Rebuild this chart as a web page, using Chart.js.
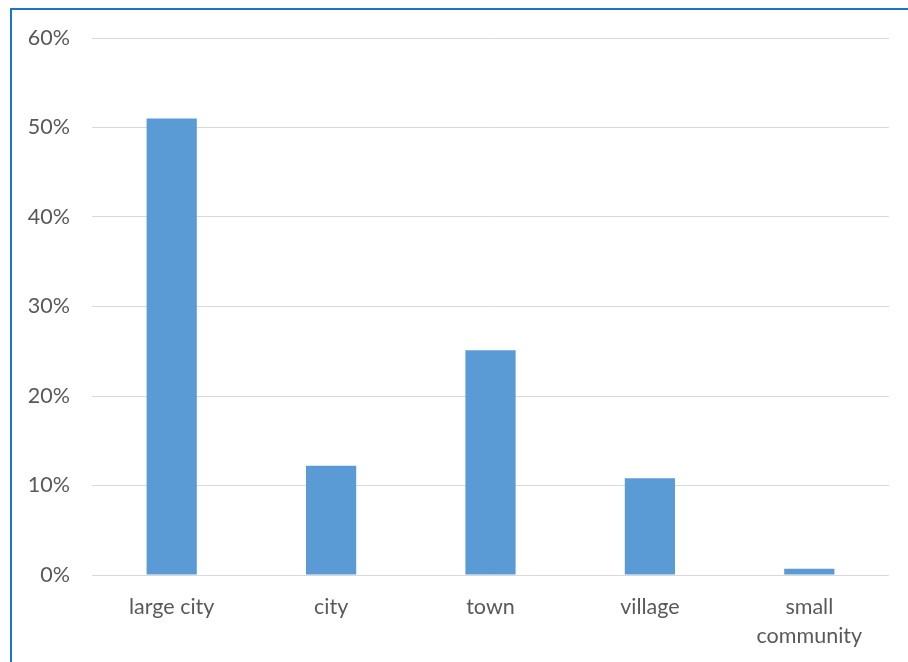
<!DOCTYPE html>
<html>
<head>
<meta charset="utf-8">
<script src="https://cdn.jsdelivr.net/npm/chart.js@4.4.0/dist/chart.umd.min.js"></script>
<style>
  html, body { margin: 0; padding: 0; background: #fff; overflow: hidden; }
  #frame {
    position: absolute; left: 10px; top: 8px; width: 920px; height: 680px;
    border-left: 2px solid #1a76c9; border-top: 2px solid #1a76c9;
  }
  #wrap { position: absolute; left: 0; top: 0; width: 908px; height: 662px; }
</style>
</head>
<body>
<div id="frame"></div>
<div id="wrap"><canvas id="chart"></canvas></div>
<script>
const categories = ["large city", "city", "town", "village", ["small", "community"]];
const shares = [0.51, 0.122, 0.251, 0.108, 0.007];
const yTicks = [0, 0.1, 0.2, 0.3, 0.4, 0.5, 0.6];

const barColor = "#5b9bd5";
const textColor = "#595959";

Chart.defaults.font.family = "Lato, 'Open Sans', sans-serif";
Chart.defaults.font.size = 21.5;
Chart.defaults.color = textColor;

const data = {
  labels: categories,
  datasets: [{
    data: shares,
    backgroundColor: barColor,
    borderWidth: 0,
    barPercentage: 0.315,
    categoryPercentage: 1.0
  }]
};

new Chart(document.getElementById("chart"), {
  type: "bar",
  data,
  options: {
    responsive: true,
    maintainAspectRatio: false,
    animation: false,
    layout: {
      padding: { left: 0, right: 19, top: 38, bottom: 0 }
    },
    plugins: {
      legend: { display: false },
      tooltip: { enabled: false }
    },
    scales: {
      x: {
        grid: { display: false, drawTicks: false },
        border: { display: false },
        ticks: {
          padding: 17.5,
          maxRotation: 0,
          font: { lineHeight: "29px" }
        },
        afterFit: (scale) => { scale.height = 87; }
      },
      y: {
        min: 0,
        max: 0.6,
        afterBuildTicks: (scale) => { scale.ticks = yTicks.map(v => ({ value: v })); },
        grid: {
          color: "#d9d9d9",
          lineWidth: 1,
          drawTicks: false
        },
        border: { display: false },
        ticks: {
          padding: 22,
          callback: (v) => Math.round(v * 100) + "%"
        },
        afterFit: (scale) => { scale.width = 92; }
      }
    }
  }
});
</script>
</body>
</html>
